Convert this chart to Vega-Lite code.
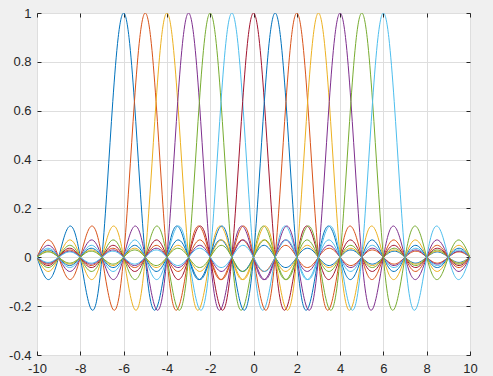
{
"$schema":"https://vega.github.io/schema/vega-lite/v6.json",
"width":433,"height":342,
"autosize":"none",
"padding":{"left":37,"top":13,"right":23,"bottom":21},
"background":"#f0f0f0",
"config":{"view":{"fill":"white","stroke":"#262626","strokeWidth":1},
"axis":{"domain":false,"tickColor":"#262626","tickSize":-4,"tickWidth":1,"gridColor":"#dedede","gridWidth":1,"labelFont":"Liberation Sans","labelFontSize":13,"labelColor":"#262626","labelFlush":false,"labelOverlap":false,"labelBound":false,"title":null}},
"data":{"values":[
{"x":-10,"a":0,"b":0,"c":0,"d":0,"e":0,"f":0,"g":0,"h":0,"i":0,"j":0,"k":0,"l":0,"m":0},
{"x":-9.75,"a":-0.06,"b":0.047,"c":-0.039,"d":0.033,"e":-0.029,"f":0.026,"g":-0.023,"h":0.021,"i":-0.019,"j":0.018,"k":-0.016,"l":0.015,"m":-0.014},
{"x":-9.5,"a":-0.091,"b":0.071,"c":-0.058,"d":0.049,"e":-0.042,"f":0.037,"g":-0.034,"h":0.03,"i":-0.028,"j":0.025,"k":-0.024,"l":0.022,"m":-0.021},
{"x":-9.25,"a":-0.069,"b":0.053,"c":-0.043,"d":0.036,"e":-0.031,"f":0.027,"g":-0.024,"h":0.022,"i":-0.02,"j":0.018,"k":-0.017,"l":0.016,"m":-0.015},
{"x":-9,"a":0,"b":0,"c":0,"d":0,"e":0,"f":0,"g":0,"h":0,"i":0,"j":0,"k":0,"l":0,"m":0},
{"x":-8.75,"a":0.082,"b":-0.06,"c":0.047,"d":-0.039,"e":0.033,"f":-0.029,"g":0.026,"h":-0.023,"i":0.021,"j":-0.019,"k":0.018,"l":-0.016,"m":0.015},
{"x":-8.5,"a":0.127,"b":-0.091,"c":0.071,"d":-0.058,"e":0.049,"f":-0.042,"g":0.037,"h":-0.034,"i":0.03,"j":-0.028,"k":0.025,"l":-0.024,"m":0.022},
{"x":-8.25,"a":0.1,"b":-0.069,"c":0.053,"d":-0.043,"e":0.036,"f":-0.031,"g":0.027,"h":-0.024,"i":0.022,"j":-0.02,"k":0.018,"l":-0.017,"m":0.016},
{"x":-8,"a":0,"b":0,"c":0,"d":0,"e":0,"f":0,"g":0,"h":0,"i":0,"j":0,"k":0,"l":0,"m":0},
{"x":-7.75,"a":-0.129,"b":0.082,"c":-0.06,"d":0.047,"e":-0.039,"f":0.033,"g":-0.029,"h":0.026,"i":-0.023,"j":0.021,"k":-0.019,"l":0.018,"m":-0.016},
{"x":-7.5,"a":-0.212,"b":0.127,"c":-0.091,"d":0.071,"e":-0.058,"f":0.049,"g":-0.042,"h":0.037,"i":-0.034,"j":0.03,"k":-0.028,"l":0.025,"m":-0.024},
{"x":-7.25,"a":-0.18,"b":0.1,"c":-0.069,"d":0.053,"e":-0.043,"f":0.036,"g":-0.031,"h":0.027,"i":-0.024,"j":0.022,"k":-0.02,"l":0.018,"m":-0.017},
{"x":-7,"a":0,"b":0,"c":0,"d":0,"e":0,"f":0,"g":0,"h":0,"i":0,"j":0,"k":0,"l":0,"m":0},
{"x":-6.75,"a":0.3,"b":-0.129,"c":0.082,"d":-0.06,"e":0.047,"f":-0.039,"g":0.033,"h":-0.029,"i":0.026,"j":-0.023,"k":0.021,"l":-0.019,"m":0.018},
{"x":-6.5,"a":0.637,"b":-0.212,"c":0.127,"d":-0.091,"e":0.071,"f":-0.058,"g":0.049,"h":-0.042,"i":0.037,"j":-0.034,"k":0.03,"l":-0.028,"m":0.025},
{"x":-6.25,"a":0.9,"b":-0.18,"c":0.1,"d":-0.069,"e":0.053,"f":-0.043,"g":0.036,"h":-0.031,"i":0.027,"j":-0.024,"k":0.022,"l":-0.02,"m":0.018},
{"x":-6,"a":1,"b":0,"c":0,"d":0,"e":0,"f":0,"g":0,"h":0,"i":0,"j":0,"k":0,"l":0,"m":0},
{"x":-5.75,"a":0.9,"b":0.3,"c":-0.129,"d":0.082,"e":-0.06,"f":0.047,"g":-0.039,"h":0.033,"i":-0.029,"j":0.026,"k":-0.023,"l":0.021,"m":-0.019},
{"x":-5.5,"a":0.637,"b":0.637,"c":-0.212,"d":0.127,"e":-0.091,"f":0.071,"g":-0.058,"h":0.049,"i":-0.042,"j":0.037,"k":-0.034,"l":0.03,"m":-0.028},
{"x":-5.25,"a":0.3,"b":0.9,"c":-0.18,"d":0.1,"e":-0.069,"f":0.053,"g":-0.043,"h":0.036,"i":-0.031,"j":0.027,"k":-0.024,"l":0.022,"m":-0.02},
{"x":-5,"a":0,"b":1,"c":0,"d":0,"e":0,"f":0,"g":0,"h":0,"i":0,"j":0,"k":0,"l":0,"m":0},
{"x":-4.75,"a":-0.18,"b":0.9,"c":0.3,"d":-0.129,"e":0.082,"f":-0.06,"g":0.047,"h":-0.039,"i":0.033,"j":-0.029,"k":0.026,"l":-0.023,"m":0.021},
{"x":-4.5,"a":-0.212,"b":0.637,"c":0.637,"d":-0.212,"e":0.127,"f":-0.091,"g":0.071,"h":-0.058,"i":0.049,"j":-0.042,"k":0.037,"l":-0.034,"m":0.03},
{"x":-4.25,"a":-0.129,"b":0.3,"c":0.9,"d":-0.18,"e":0.1,"f":-0.069,"g":0.053,"h":-0.043,"i":0.036,"j":-0.031,"k":0.027,"l":-0.024,"m":0.022},
{"x":-4,"a":0,"b":0,"c":1,"d":0,"e":0,"f":0,"g":0,"h":0,"i":0,"j":0,"k":0,"l":0,"m":0},
{"x":-3.75,"a":0.1,"b":-0.18,"c":0.9,"d":0.3,"e":-0.129,"f":0.082,"g":-0.06,"h":0.047,"i":-0.039,"j":0.033,"k":-0.029,"l":0.026,"m":-0.023},
{"x":-3.5,"a":0.127,"b":-0.212,"c":0.637,"d":0.637,"e":-0.212,"f":0.127,"g":-0.091,"h":0.071,"i":-0.058,"j":0.049,"k":-0.042,"l":0.037,"m":-0.034},
{"x":-3.25,"a":0.082,"b":-0.129,"c":0.3,"d":0.9,"e":-0.18,"f":0.1,"g":-0.069,"h":0.053,"i":-0.043,"j":0.036,"k":-0.031,"l":0.027,"m":-0.024},
{"x":-3,"a":0,"b":0,"c":0,"d":1,"e":0,"f":0,"g":0,"h":0,"i":0,"j":0,"k":0,"l":0,"m":0},
{"x":-2.75,"a":-0.069,"b":0.1,"c":-0.18,"d":0.9,"e":0.3,"f":-0.129,"g":0.082,"h":-0.06,"i":0.047,"j":-0.039,"k":0.033,"l":-0.029,"m":0.026},
{"x":-2.5,"a":-0.091,"b":0.127,"c":-0.212,"d":0.637,"e":0.637,"f":-0.212,"g":0.127,"h":-0.091,"i":0.071,"j":-0.058,"k":0.049,"l":-0.042,"m":0.037},
{"x":-2.25,"a":-0.06,"b":0.082,"c":-0.129,"d":0.3,"e":0.9,"f":-0.18,"g":0.1,"h":-0.069,"i":0.053,"j":-0.043,"k":0.036,"l":-0.031,"m":0.027},
{"x":-2,"a":0,"b":0,"c":0,"d":0,"e":1,"f":0,"g":0,"h":0,"i":0,"j":0,"k":0,"l":0,"m":0},
{"x":-1.75,"a":0.053,"b":-0.069,"c":0.1,"d":-0.18,"e":0.9,"f":0.3,"g":-0.129,"h":0.082,"i":-0.06,"j":0.047,"k":-0.039,"l":0.033,"m":-0.029},
{"x":-1.5,"a":0.071,"b":-0.091,"c":0.127,"d":-0.212,"e":0.637,"f":0.637,"g":-0.212,"h":0.127,"i":-0.091,"j":0.071,"k":-0.058,"l":0.049,"m":-0.042},
{"x":-1.25,"a":0.047,"b":-0.06,"c":0.082,"d":-0.129,"e":0.3,"f":0.9,"g":-0.18,"h":0.1,"i":-0.069,"j":0.053,"k":-0.043,"l":0.036,"m":-0.031},
{"x":-1,"a":0,"b":0,"c":0,"d":0,"e":0,"f":1,"g":0,"h":0,"i":0,"j":0,"k":0,"l":0,"m":0},
{"x":-0.75,"a":-0.043,"b":0.053,"c":-0.069,"d":0.1,"e":-0.18,"f":0.9,"g":0.3,"h":-0.129,"i":0.082,"j":-0.06,"k":0.047,"l":-0.039,"m":0.033},
{"x":-0.5,"a":-0.058,"b":0.071,"c":-0.091,"d":0.127,"e":-0.212,"f":0.637,"g":0.637,"h":-0.212,"i":0.127,"j":-0.091,"k":0.071,"l":-0.058,"m":0.049},
{"x":-0.25,"a":-0.039,"b":0.047,"c":-0.06,"d":0.082,"e":-0.129,"f":0.3,"g":0.9,"h":-0.18,"i":0.1,"j":-0.069,"k":0.053,"l":-0.043,"m":0.036},
{"x":0,"a":0,"b":0,"c":0,"d":0,"e":0,"f":0,"g":1,"h":0,"i":0,"j":0,"k":0,"l":0,"m":0},
{"x":0.25,"a":0.036,"b":-0.043,"c":0.053,"d":-0.069,"e":0.1,"f":-0.18,"g":0.9,"h":0.3,"i":-0.129,"j":0.082,"k":-0.06,"l":0.047,"m":-0.039},
{"x":0.5,"a":0.049,"b":-0.058,"c":0.071,"d":-0.091,"e":0.127,"f":-0.212,"g":0.637,"h":0.637,"i":-0.212,"j":0.127,"k":-0.091,"l":0.071,"m":-0.058},
{"x":0.75,"a":0.033,"b":-0.039,"c":0.047,"d":-0.06,"e":0.082,"f":-0.129,"g":0.3,"h":0.9,"i":-0.18,"j":0.1,"k":-0.069,"l":0.053,"m":-0.043},
{"x":1,"a":0,"b":0,"c":0,"d":0,"e":0,"f":0,"g":0,"h":1,"i":0,"j":0,"k":0,"l":0,"m":0},
{"x":1.25,"a":-0.031,"b":0.036,"c":-0.043,"d":0.053,"e":-0.069,"f":0.1,"g":-0.18,"h":0.9,"i":0.3,"j":-0.129,"k":0.082,"l":-0.06,"m":0.047},
{"x":1.5,"a":-0.042,"b":0.049,"c":-0.058,"d":0.071,"e":-0.091,"f":0.127,"g":-0.212,"h":0.637,"i":0.637,"j":-0.212,"k":0.127,"l":-0.091,"m":0.071},
{"x":1.75,"a":-0.029,"b":0.033,"c":-0.039,"d":0.047,"e":-0.06,"f":0.082,"g":-0.129,"h":0.3,"i":0.9,"j":-0.18,"k":0.1,"l":-0.069,"m":0.053},
{"x":2,"a":0,"b":0,"c":0,"d":0,"e":0,"f":0,"g":0,"h":0,"i":1,"j":0,"k":0,"l":0,"m":0},
{"x":2.25,"a":0.027,"b":-0.031,"c":0.036,"d":-0.043,"e":0.053,"f":-0.069,"g":0.1,"h":-0.18,"i":0.9,"j":0.3,"k":-0.129,"l":0.082,"m":-0.06},
{"x":2.5,"a":0.037,"b":-0.042,"c":0.049,"d":-0.058,"e":0.071,"f":-0.091,"g":0.127,"h":-0.212,"i":0.637,"j":0.637,"k":-0.212,"l":0.127,"m":-0.091},
{"x":2.75,"a":0.026,"b":-0.029,"c":0.033,"d":-0.039,"e":0.047,"f":-0.06,"g":0.082,"h":-0.129,"i":0.3,"j":0.9,"k":-0.18,"l":0.1,"m":-0.069},
{"x":3,"a":0,"b":0,"c":0,"d":0,"e":0,"f":0,"g":0,"h":0,"i":0,"j":1,"k":0,"l":0,"m":0},
{"x":3.25,"a":-0.024,"b":0.027,"c":-0.031,"d":0.036,"e":-0.043,"f":0.053,"g":-0.069,"h":0.1,"i":-0.18,"j":0.9,"k":0.3,"l":-0.129,"m":0.082},
{"x":3.5,"a":-0.034,"b":0.037,"c":-0.042,"d":0.049,"e":-0.058,"f":0.071,"g":-0.091,"h":0.127,"i":-0.212,"j":0.637,"k":0.637,"l":-0.212,"m":0.127},
{"x":3.75,"a":-0.023,"b":0.026,"c":-0.029,"d":0.033,"e":-0.039,"f":0.047,"g":-0.06,"h":0.082,"i":-0.129,"j":0.3,"k":0.9,"l":-0.18,"m":0.1},
{"x":4,"a":0,"b":0,"c":0,"d":0,"e":0,"f":0,"g":0,"h":0,"i":0,"j":0,"k":1,"l":0,"m":0},
{"x":4.25,"a":0.022,"b":-0.024,"c":0.027,"d":-0.031,"e":0.036,"f":-0.043,"g":0.053,"h":-0.069,"i":0.1,"j":-0.18,"k":0.9,"l":0.3,"m":-0.129},
{"x":4.5,"a":0.03,"b":-0.034,"c":0.037,"d":-0.042,"e":0.049,"f":-0.058,"g":0.071,"h":-0.091,"i":0.127,"j":-0.212,"k":0.637,"l":0.637,"m":-0.212},
{"x":4.75,"a":0.021,"b":-0.023,"c":0.026,"d":-0.029,"e":0.033,"f":-0.039,"g":0.047,"h":-0.06,"i":0.082,"j":-0.129,"k":0.3,"l":0.9,"m":-0.18},
{"x":5,"a":0,"b":0,"c":0,"d":0,"e":0,"f":0,"g":0,"h":0,"i":0,"j":0,"k":0,"l":1,"m":0},
{"x":5.25,"a":-0.02,"b":0.022,"c":-0.024,"d":0.027,"e":-0.031,"f":0.036,"g":-0.043,"h":0.053,"i":-0.069,"j":0.1,"k":-0.18,"l":0.9,"m":0.3},
{"x":5.5,"a":-0.028,"b":0.03,"c":-0.034,"d":0.037,"e":-0.042,"f":0.049,"g":-0.058,"h":0.071,"i":-0.091,"j":0.127,"k":-0.212,"l":0.637,"m":0.637},
{"x":5.75,"a":-0.019,"b":0.021,"c":-0.023,"d":0.026,"e":-0.029,"f":0.033,"g":-0.039,"h":0.047,"i":-0.06,"j":0.082,"k":-0.129,"l":0.3,"m":0.9},
{"x":6,"a":0,"b":0,"c":0,"d":0,"e":0,"f":0,"g":0,"h":0,"i":0,"j":0,"k":0,"l":0,"m":1},
{"x":6.25,"a":0.018,"b":-0.02,"c":0.022,"d":-0.024,"e":0.027,"f":-0.031,"g":0.036,"h":-0.043,"i":0.053,"j":-0.069,"k":0.1,"l":-0.18,"m":0.9},
{"x":6.5,"a":0.025,"b":-0.028,"c":0.03,"d":-0.034,"e":0.037,"f":-0.042,"g":0.049,"h":-0.058,"i":0.071,"j":-0.091,"k":0.127,"l":-0.212,"m":0.637},
{"x":6.75,"a":0.018,"b":-0.019,"c":0.021,"d":-0.023,"e":0.026,"f":-0.029,"g":0.033,"h":-0.039,"i":0.047,"j":-0.06,"k":0.082,"l":-0.129,"m":0.3},
{"x":7,"a":0,"b":0,"c":0,"d":0,"e":0,"f":0,"g":0,"h":0,"i":0,"j":0,"k":0,"l":0,"m":0},
{"x":7.25,"a":-0.017,"b":0.018,"c":-0.02,"d":0.022,"e":-0.024,"f":0.027,"g":-0.031,"h":0.036,"i":-0.043,"j":0.053,"k":-0.069,"l":0.1,"m":-0.18},
{"x":7.5,"a":-0.024,"b":0.025,"c":-0.028,"d":0.03,"e":-0.034,"f":0.037,"g":-0.042,"h":0.049,"i":-0.058,"j":0.071,"k":-0.091,"l":0.127,"m":-0.212},
{"x":7.75,"a":-0.016,"b":0.018,"c":-0.019,"d":0.021,"e":-0.023,"f":0.026,"g":-0.029,"h":0.033,"i":-0.039,"j":0.047,"k":-0.06,"l":0.082,"m":-0.129},
{"x":8,"a":0,"b":0,"c":0,"d":0,"e":0,"f":0,"g":0,"h":0,"i":0,"j":0,"k":0,"l":0,"m":0},
{"x":8.25,"a":0.016,"b":-0.017,"c":0.018,"d":-0.02,"e":0.022,"f":-0.024,"g":0.027,"h":-0.031,"i":0.036,"j":-0.043,"k":0.053,"l":-0.069,"m":0.1},
{"x":8.5,"a":0.022,"b":-0.024,"c":0.025,"d":-0.028,"e":0.03,"f":-0.034,"g":0.037,"h":-0.042,"i":0.049,"j":-0.058,"k":0.071,"l":-0.091,"m":0.127},
{"x":8.75,"a":0.015,"b":-0.016,"c":0.018,"d":-0.019,"e":0.021,"f":-0.023,"g":0.026,"h":-0.029,"i":0.033,"j":-0.039,"k":0.047,"l":-0.06,"m":0.082},
{"x":9,"a":0,"b":0,"c":0,"d":0,"e":0,"f":0,"g":0,"h":0,"i":0,"j":0,"k":0,"l":0,"m":0},
{"x":9.25,"a":-0.015,"b":0.016,"c":-0.017,"d":0.018,"e":-0.02,"f":0.022,"g":-0.024,"h":0.027,"i":-0.031,"j":0.036,"k":-0.043,"l":0.053,"m":-0.069},
{"x":9.5,"a":-0.021,"b":0.022,"c":-0.024,"d":0.025,"e":-0.028,"f":0.03,"g":-0.034,"h":0.037,"i":-0.042,"j":0.049,"k":-0.058,"l":0.071,"m":-0.091},
{"x":9.75,"a":-0.014,"b":0.015,"c":-0.016,"d":0.018,"e":-0.019,"f":0.021,"g":-0.023,"h":0.026,"i":-0.029,"j":0.033,"k":-0.039,"l":0.047,"m":-0.06},
{"x":10,"a":0,"b":0,"c":0,"d":0,"e":0,"f":0,"g":0,"h":0,"i":0,"j":0,"k":0,"l":0,"m":0}
]},
"transform":[{"fold":["a","b","c","d","e","f","g","h","i","j","k","l","m"],"as":["s","y"]}],
"layer":[
{"mark":{"type":"line","interpolate":"natural","strokeWidth":1,"clip":true},
"encoding":{
"x":{"field":"x","type":"quantitative","scale":{"domain":[-10,10],"nice":false,"zero":false},"axis":{"orient":"bottom","values":[-10,-8,-6,-4,-2,0,2,4,6,8,10],"labelPadding":11,"labelExpr":"replace(datum.label, '\u2212', '-')"}},
"y":{"field":"y","type":"quantitative","scale":{"domain":[-0.4,1],"nice":false,"zero":false},"axis":{"orient":"left","values":[-0.4,-0.2,0,0.2,0.4,0.6,0.8,1],"format":"~g","labelPadding":10,"labelExpr":"replace(datum.label, '\u2212', '-')"}},
"color":{"field":"s","type":"nominal","legend":null,"scale":{"domain":["a","b","c","d","e","f","g","h","i","j","k","l","m"],"range":["#0072BD","#D95319","#EDB120","#7E2F8E","#77AC30","#4DBEEE","#A2142F","#0072BD","#D95319","#EDB120","#7E2F8E","#77AC30","#4DBEEE"]}}}},
{"mark":{"type":"line","strokeOpacity":0},
"encoding":{
"x":{"field":"x","type":"quantitative","axis":{"orient":"top","values":[-10,-8,-6,-4,-2,0,2,4,6,8,10],"labels":false,"grid":false}},
"y":{"field":"y","type":"quantitative","axis":{"orient":"right","values":[-0.4,-0.2,0,0.2,0.4,0.6,0.8,1],"labels":false,"grid":false}},
"detail":{"field":"s"}}}
],
"resolve":{"axis":{"x":"independent","y":"independent"}}
}
